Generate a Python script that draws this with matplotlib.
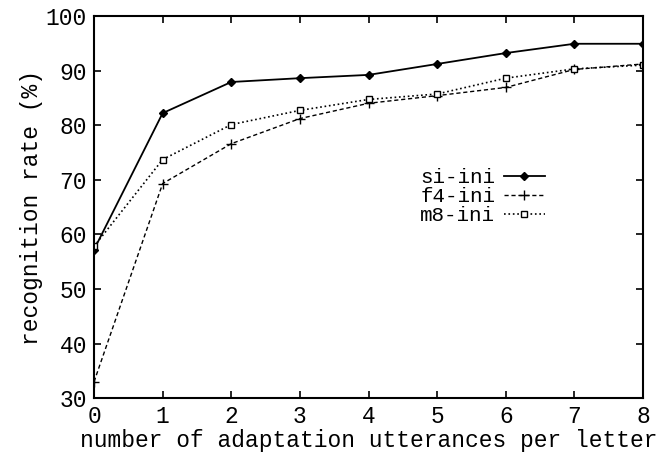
import matplotlib
matplotlib.use('Agg')
import matplotlib.pyplot as plt

# --- Data ---
n_utt = [0, 1, 2, 3, 4, 5, 6, 7, 8]
si_ini = [57.2, 82.2, 87.9, 88.6, 89.2, 91.2, 93.2, 94.9, 94.9]
f4_ini = [33.0, 69.3, 76.6, 81.2, 84.0, 85.4, 86.9, 90.2, 91.2]
m8_ini = [57.8, 73.7, 80.1, 82.7, 84.7, 85.7, 88.6, 90.3, 91.0]

plt.rcParams['font.family'] = ['Liberation Mono', 'DejaVu Sans Mono']

fig = plt.figure(figsize=(6.67, 4.55), dpi=100)
ax = fig.add_axes([0.141, 0.125, 0.823, 0.840])

ax.plot(n_utt, si_ini, 'k-', lw=1.3, marker='D', ms=4, mfc='k', label='si-ini')
ax.plot(n_utt, f4_ini, 'k--', lw=1.0, dashes=(3, 2), marker='+', ms=7, mew=1.0, label='f4-ini')
ax.plot(n_utt, m8_ini, 'k:', lw=1.2, marker='s', ms=5, mfc='white', mew=1.0, label='m8-ini')

ax.set_xlim(0, 8)
ax.set_ylim(30, 100)
ax.set_xticks(range(0, 9))
ax.set_yticks(range(30, 101, 10))
ax.tick_params(direction='in', top=True, right=True, length=5, width=1.2, labelsize=16.5, pad=5)
for s in ax.spines.values():
    s.set_linewidth(1.5)

ax.set_xlabel('number of adaptation utterances per letter', fontsize=16.5, labelpad=1)
ax.set_ylabel('recognition rate (%)', fontsize=16.5, labelpad=2)

ax.legend(loc='upper left', bbox_to_anchor=(0.56, 0.65), frameon=False, markerfirst=False,
          fontsize=15, handlelength=2.0, handletextpad=0.4, labelspacing=0.0)

plt.savefig('out.png', dpi=100)
